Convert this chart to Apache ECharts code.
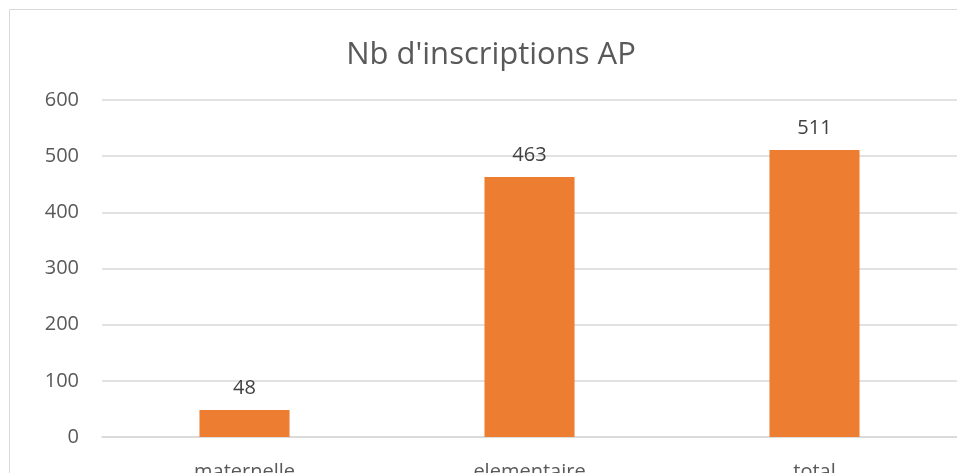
<!DOCTYPE html>
<html>
<head>
<meta charset="utf-8">
<script src="https://cdn.jsdelivr.net/npm/echarts@6/dist/echarts.min.js"></script>
<style>
  html, body { margin: 0; padding: 0; background: #fff; }
  #main { width: 957px; height: 473px; }
</style>
</head>
<body>
<div id="main"></div>
<script>
// données
const categories = ['maternelle', 'elementaire', 'total'];
const inscriptions = [48, 463, 511];
const yTicks = [0, 100, 200, 300, 400, 500, 600];

const chart = echarts.init(document.getElementById('main'));
const font = '"Open Sans", "Noto Sans", sans-serif';

const option = {
  animation: false,
  backgroundColor: '#fff',
  title: {
    text: "Nb d'inscriptions AP",
    left: 486,
    top: 35,
    textAlign: 'center',
    textStyle: { fontFamily: font, fontSize: 31, fontWeight: 'normal', color: '#595959' }
  },
  graphic: [{
    type: 'rect',
    shape: { x: 9.5, y: 9.5, width: 1000, height: 1000 },
    style: { fill: 'none', stroke: '#d9d9d9', lineWidth: 1 },
    silent: true
  }],
  grid: { left: 102, right: 0, top: 100, bottom: 36, containLabel: false, outerBoundsMode: 'none' },
  xAxis: {
    type: 'category',
    data: categories,
    axisLine: { lineStyle: { color: '#d9d9d9', width: 1.5 } },
    axisTick: { show: false },
    axisLabel: { fontFamily: font, fontSize: 20, color: '#595959', margin: 25 }
  },
  yAxis: {
    type: 'value',
    min: yTicks[0],
    max: yTicks[yTicks.length - 1],
    interval: 100,
    axisLine: { show: false },
    axisTick: { show: false },
    splitLine: { lineStyle: { color: '#d9d9d9', width: 1.5 } },
    axisLabel: { fontFamily: font, fontSize: 20, color: '#595959', margin: 23 }
  },
  series: [{
    type: 'bar',
    data: inscriptions,
    barWidth: '31.6%',
    itemStyle: { color: '#ed7d31' },
    label: {
      show: true,
      position: 'top',
      distance: 12,
      fontFamily: font,
      fontSize: 20,
      color: '#404040'
    }
  }]
};

chart.setOption(option);
</script>
</body>
</html>
